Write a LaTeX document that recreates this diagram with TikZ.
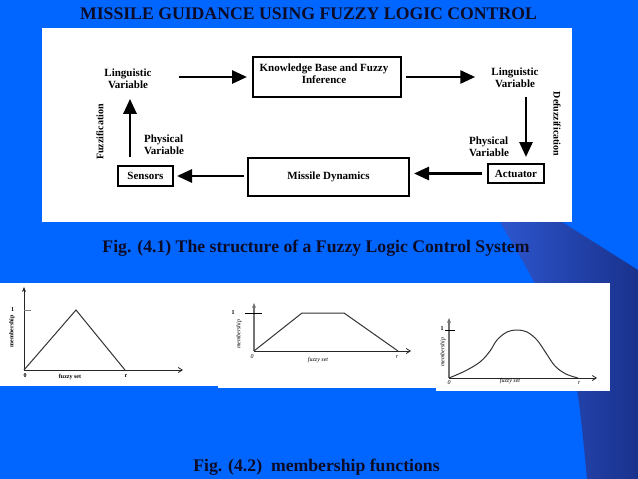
\documentclass[tikz,border=0pt]{standalone}
\usepackage{fontspec}
\setmainfont{Liberation Serif}
\usetikzlibrary{arrows.meta}
\definecolor{bg}{RGB}{0,102,255}
\definecolor{bandL}{RGB}{45,85,205}
\definecolor{bandR}{RGB}{25,50,140}
\definecolor{ink}{RGB}{12,12,40}
\begin{document}
\begin{tikzpicture}[x=1pt,y=-1pt,
  lbl/.style={font=\fontsize{11}{11.5}\selectfont\bfseries, align=center, inner sep=0pt},
  vlbl/.style={font=\fontsize{10}{10}\selectfont\bfseries, inner sep=0pt},
  blk/.style={draw=black, line width=2pt, fill=white, font=\fontsize{11}{11.5}\selectfont\bfseries, inner sep=0pt, align=center},
  bigarrow/.style={line width=2.8pt, -{Triangle[length=15pt,width=13pt]}},
  ax/.style={line width=0.8pt, draw=black!85},
  gax/.style={line width=1.6pt, draw=black!55},
  curve/.style={line width=1pt, draw=black!80},
  tiny/.style={font=\fontsize{6}{6}\selectfont\bfseries, inner sep=0pt},
  tinyit/.style={font=\fontsize{6}{6}\selectfont\itshape, inner sep=0pt},
  captxt/.style={font=\fontsize{17.7}{17.7}\selectfont\bfseries, text=ink, inner sep=0pt},
]
\useasboundingbox (0,0) rectangle (638,479);
\fill[bg] (0,0) rectangle (638,479);
\shade[left color=bandL, right color=bandR] plot[smooth] coordinates {(500,222) (533,280) (560,340) (577,390) (587,479)} -- (638,479) -- (638,270) -- (562,222) -- cycle;

% white panels
\fill[white] (42,28) rectangle (572,222);
\fill[white] (0,283) rectangle (218,386);
\fill[white] (218,283) rectangle (436,388);
\fill[white] (436,283) rectangle (610,391);

% title
\node[captxt] (title) at (308.5,14) {MISSILE GUIDANCE USING FUZZY LOGIC CONTROL};

% block diagram
\node[lbl] (lingL) at (128,79) {Linguistic\\Variable};
\node[blk, minimum width=148pt, minimum height=40pt] (kb) at (327,77) {};
\node[lbl] (kbt) at (324,73.5) {Knowledge Base and Fuzzy\\Inference};
\node[lbl] (lingR) at (515,78) {Linguistic\\Variable};
\node[vlbl, rotate=-90] (defuzz) at (557,124) {Defuzzification};
\node[lbl, align=left] (physR) at (489,147) {Physical\\Variable};
\node[blk, minimum width=56pt, minimum height=19pt] (act) at (516,173.5) {Actuator};
\node[blk, minimum width=161pt, minimum height=38pt] (md) at (328.5,177) {Missile Dynamics};
\node[blk, minimum width=55pt, minimum height=20pt] (sens) at (145.5,176) {Sensors};
\node[vlbl, rotate=90] (fuzz) at (100,132) {Fuzzification};
\node[lbl, align=left] (physL) at (164,145) {Physical\\Variable};

\coordinate (s1) at ([xshift=27pt]lingL.east);
\coordinate (e1) at ([xshift=-5pt]kb.west);
\draw[bigarrow] (s1 |- e1) -- (e1);
\coordinate (s2) at ([xshift=4pt]kb.east);
\coordinate (e2) at ([xshift=-16pt]lingR.west);
\draw[bigarrow] (s2) -- (e2 |- s2);
\coordinate (s3) at ([xshift=11pt,yshift=-9pt]lingR.south);
\coordinate (e3) at ([yshift=6pt]act.north);
\draw[bigarrow] (s3) -- (s3 |- e3);
\coordinate (s4) at ([xshift=-5pt]act.west);
\coordinate (e4) at ([xshift=4pt]md.east);
\draw[bigarrow] (s4) -- (e4 |- s4);
\coordinate (s5) at ([xshift=-3pt]md.west);
\coordinate (e5) at ([xshift=3pt]sens.east);
\draw[bigarrow] (s5 |- e5) -- (e5);
\coordinate (s6) at ([xshift=-15.5pt,yshift=8pt]sens.north);
\coordinate (e6) at ([yshift=-10pt]lingL.south);
\draw[bigarrow] (s6) -- (s6 |- e6);

% plot 1: triangle
\coordinate (o1) at (24,370);
\draw[ax, -{Stealth[length=5pt,width=4pt]}] (o1) -- (24,287);
\draw[ax, -{Straight Barb[length=4pt,width=5pt]}] (o1) -- (183,370);
\draw[curve] (o1) -- (76,310) -- (125,370);
\draw[gray, line width=0.5pt] (24,310) -- (31,310);
\node[tiny] (one1) at (12.5,310) {1};
\node[tiny, rotate=90] (mem1) at (12,331) {membership};
\node[tiny] (zero1) at (25,376) {0};
\node[tiny] (fs1) at (70,377) {fuzzy set};
\node[tiny] (r1) at (126,376) {r};

% plot 2: trapezoid
\coordinate (o2) at (254,351);
\draw[gax, -{Stealth[length=5pt,width=4pt]}] (o2) -- (254,303);
\draw[ax, -{Straight Barb[length=4pt,width=5pt]}] (o2) -- (411,351);
\draw[curve] (o2) -- (302,313) -- (344,313) -- (398,351);
\draw[black, line width=0.6pt] (245,313) -- (262,313);
\node[tiny] (one2) at (233,313) {1};
\node[tinyit, rotate=90] (mem2) at (239,334) {membership};
\node[tinyit] (zero2) at (252,357) {0};
\node[tinyit] (fs2) at (318,360) {fuzzy set};
\node[tinyit] (r2) at (397,357) {r};

% plot 3: bell
\coordinate (o3) at (449,378);
\draw[gax, -{Stealth[length=5pt,width=4pt]}] (o3) -- (449,318);
\draw[ax, -{Straight Barb[length=4pt,width=5pt]}] (o3) -- (597,378);
\draw[curve] plot[smooth, tension=0.6] coordinates {(449,378) (465,371) (480,362) (490,351) (497,340) (507,332) (517,330) (527,332) (537,340) (546,353) (555,366) (566,374) (578,378)};
\draw[black, line width=0.6pt] (445,330) -- (455,330);
\node[tiny] (one3) at (442,329) {1};
\node[tinyit, rotate=90] (mem3) at (443,352) {membership};
\node[tinyit] (zero3) at (449,383) {0};
\node[tinyit] (fs3) at (510,381) {fuzzy set};
\node[tinyit] (r3) at (579,383) {r};

% captions
\node[captxt] (cap1) at (316,248) {Fig. (4.1) The structure of a Fuzzy Logic Control System};
\node[captxt] (cap2) at (316.5,467) {Fig. (4.2)\ \ membership functions};
\end{tikzpicture}
\end{document}
